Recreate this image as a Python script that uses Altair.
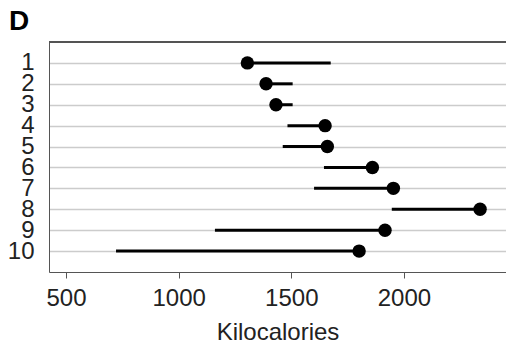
import altair as alt
import pandas as pd

rows = ["1", "2", "3", "4", "5", "6", "7", "8", "9", "10"]
point_kcal = [1305, 1388, 1432, 1650, 1660, 1860, 1953, 2338, 1916, 1801]
other_kcal = [1675, 1506, 1506, 1483, 1462, 1645, 1601, 1946, 1161, 722]

df = pd.DataFrame({"row": rows, "point": point_kcal, "other": other_kcal})

FONT = "Liberation Sans"
W, H = 457, 230
xscale = alt.Scale(domain=[424.5, 2453], nice=False, zero=False)
yscale = alt.Scale(type="point", padding=1)

base = alt.Chart(df)

segs = base.mark_rule(color="black", strokeWidth=3).encode(
    x=alt.X("other:Q", scale=xscale, title="Kilocalories",
            axis=alt.Axis(values=[500, 1000, 1500, 2000], grid=False, format="d",
                          labelFontSize=24, titleFontSize=24, labelFont=FONT, titleFont=FONT,
                          labelColor="#222", titleColor="#222", titleFontWeight="normal",
                          domainColor="#555", tickColor="#555", tickSize=6,
                          labelPadding=8, titlePadding=10)),
    x2="point:Q",
    y=alt.Y("row:N", sort=rows, scale=yscale, title=None,
            axis=alt.Axis(grid=True, gridColor="#cccccc", gridWidth=1.5, ticks=False,
                          labelFontSize=24, labelFont=FONT, labelColor="#222",
                          labelPadding=15, domainColor="#555")),
)

dots = base.mark_circle(color="black", opacity=1, size=180).encode(
    x=alt.X("point:Q", scale=xscale),
    y=alt.Y("row:N", sort=rows, scale=yscale),
)

topline = base.mark_rule(color="#555", strokeWidth=1).encode(
    x=alt.value(0), x2=alt.value(W), y=alt.value(0)
)

chart = alt.layer(segs, dots, topline).properties(
    width=W, height=H,
    autosize=alt.AutoSizeParams(type="none"),
    padding={"left": 49, "top": 42, "right": 0, "bottom": 76},
    title=alt.Title("D", anchor="start", frame="group", dx=-40, offset=6,
                    fontSize=28, fontWeight="bold", font=FONT, color="black"),
).configure_view(stroke=None).configure(background="white")

chart.save("out.html", embed_options={"renderer": "svg", "actions": False})
